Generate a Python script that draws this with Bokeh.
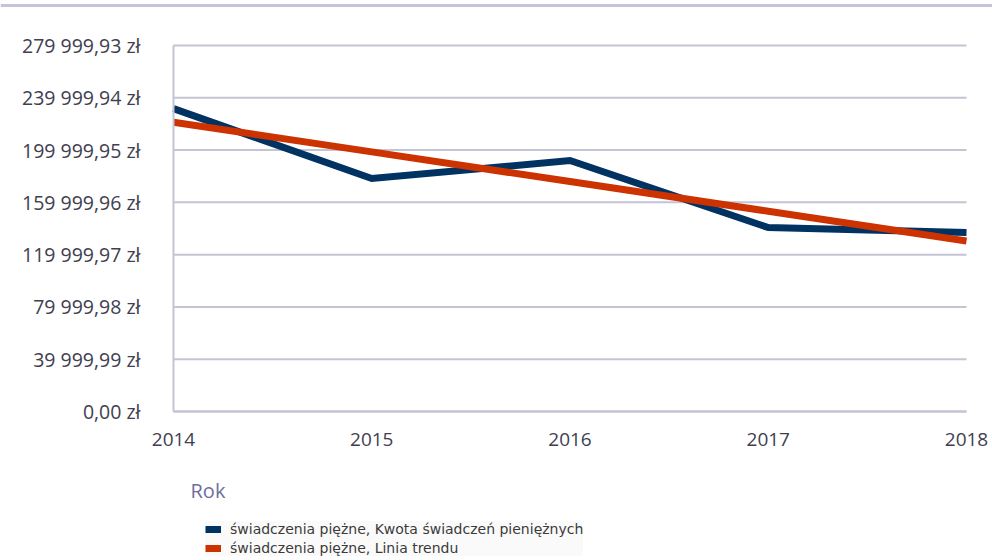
from bokeh.plotting import figure
from bokeh.models import (Range1d, FixedTicker, Legend, LegendItem, Label, Span)
from bokeh.embed import file_html
from bokeh.resources import INLINE

years = [2014, 2015, 2016, 2017, 2018]
kwota = [231700, 178200, 192000, 140700, 136900]
trend = [221300, 198600, 175900, 153200, 130500]

y_ticks = [0, 39999.99, 79999.98, 119999.97, 159999.96, 199999.95, 239999.94, 279999.93]
y_tick_labels = ["0,00 zł", "39 999,99 zł", "79 999,98 zł", "119 999,97 zł",
                 "159 999,96 zł", "199 999,95 zł", "239 999,94 zł", "279 999,93 zł"]
x_ticks = [2014, 2015, 2016, 2017, 2018]
x_tick_labels = ["2014", "2015", "2016", "2017", "2018"]

series_names = ["świadczenia piężne, Kwota świadczeń pieniężnych",
                "świadczenia piężne, Linia trendu"]
x_title = "Rok"

GRID = "#c3c4d4"
TXT = "#404050"

X0, X1 = x_ticks[0], x_ticks[-1]
YMAX = y_ticks[-1]
PX = YMAX / (411 - 45)               # value per pixel on the y scale
XPX = (X1 - X0) / (966 - 173)        # years per pixel on the x scale


def yval(py):
    return (411 - py) * PX


def xval(px):
    return X0 + (px - 173) * XPX


p = figure(width=992, height=560, output_backend="svg", toolbar_location=None,
           x_range=Range1d(xval(0), xval(992)), y_range=Range1d(yval(560), yval(3)),
           min_border_left=0, min_border_right=0, min_border_top=3,
           min_border_bottom=0)
p.frame_width = 992
p.frame_height = 557
p.outline_line_color = None
p.background_fill_color = "white"
p.xgrid.grid_line_color = None
p.ygrid.grid_line_color = None

# horizontal grid lines at the y ticks, spanning the plotted years
p.segment(x0=[X0] * len(y_ticks), x1=[X1] * len(y_ticks), y0=y_ticks, y1=y_ticks,
          line_color=GRID, line_width=2)

p.yaxis.ticker = FixedTicker(ticks=y_ticks)
p.yaxis.bounds = (0, YMAX)
p.yaxis.fixed_location = X0
p.yaxis.major_label_overrides = {t: l for t, l in zip(y_ticks, y_tick_labels)}
p.xaxis.ticker = FixedTicker(ticks=x_ticks)
p.xaxis.bounds = (X0, X1)
p.xaxis.fixed_location = 0
p.xaxis.major_label_overrides = {t: l for t, l in zip(x_ticks, x_tick_labels)}

for ax in (p.xaxis, p.yaxis):
    ax.axis_line_color = GRID
    ax.axis_line_width = 2
    ax.major_tick_line_color = None
    ax.minor_tick_line_color = None
    ax.major_label_text_font = "Open Sans"
    ax.major_label_text_color = TXT
p.yaxis.major_label_text_font_size = "19.5px"
p.yaxis.major_label_standoff = 27
p.xaxis.major_label_text_font_size = "19px"
p.xaxis.major_label_standoff = 15

p.add_layout(Span(location=yval(5), dimension="width",
                  line_color=GRID, line_width=3))

r1 = p.line(years, kwota, line_color="#003262", line_width=7, line_join="miter")
r2 = p.line(years, trend, line_color="#cc3300", line_width=7, line_join="miter")

p.add_layout(Label(x=xval(190), y=yval(490), text=x_title,
                   text_font="Open Sans", text_font_size="20px",
                   text_color="#6e6e9e", text_baseline="middle", text_align="left"))

legend = Legend(items=[LegendItem(label=series_names[0], renderers=[r1]),
                       LegendItem(label=series_names[1], renderers=[r2])],
                location=(205, 4), orientation="vertical",
                label_text_font="DejaVu Sans", label_text_font_size="14px",
                label_text_color="#3a3a3a", glyph_width=16, glyph_height=16,
                label_height=16, label_standoff=9, spacing=3, padding=2,
                margin=0, background_fill_color="#fafafa", background_fill_alpha=1,
                border_line_color=None)
p.add_layout(legend)

open("out.html", "w").write(file_html(p, INLINE))
